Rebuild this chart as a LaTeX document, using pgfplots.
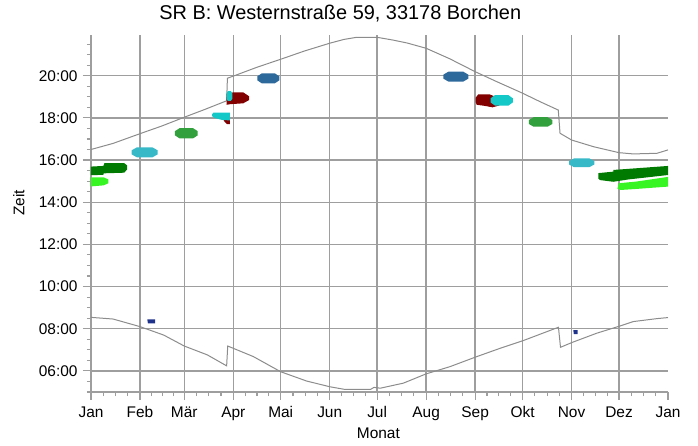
\documentclass[border=0pt]{standalone}
\usepackage{fontspec}
\setmainfont{Liberation Sans}
\usepackage{pgfplots}
\pgfplotsset{compat=1.18}
\definecolor{gridgray}{RGB}{158,158,158}
\definecolor{curvegray}{RGB}{140,140,140}
\definecolor{dkgreen}{RGB}{0,122,0}
\definecolor{ltgreen}{RGB}{55,245,35}
\definecolor{teal1}{RGB}{55,185,200}
\definecolor{midgreen}{RGB}{50,160,60}
\definecolor{cyan1}{RGB}{20,200,200}
\definecolor{dkred}{RGB}{130,0,0}
\definecolor{steel}{RGB}{45,105,155}
\definecolor{navy1}{RGB}{30,50,140}
\begin{document}
\begin{tikzpicture}
\begin{axis}[
  scale only axis, width=577bp, height=357bp,
  xmin=0, xmax=365, ymin=5, ymax=21.93,
  axis x line*=bottom, axis y line*=left,
  axis line style={gridgray, line width=1.4bp},
  xtick={0,31,59,90,120,151,181,212,243,273,304,334,365},
  xticklabels={Jan,Feb,Mär,Apr,Mai,Jun,Jul,Aug,Sep,Okt,Nov,Dez,Jan},
  minor xtick={7.75,15.5,23.25,38,45,52,66.75,74.5,82.25,97.5,105,112.5,127.75,135.5,143.25,158.5,166,173.5,188.75,196.5,204.25,219.75,227.5,235.25,250.5,258,265.5,280.75,288.5,296.25,311.5,319,326.5,341.75,349.5,357.25},
  extra x ticks={31,59,90,120,151,181,212,243,273,304,334},
  extra x tick labels={},
  extra x tick style={grid=major, major tick length=0pt},
  ytick={6,8,10,12,14,16,18,20},
  yticklabels={06:00,08:00,10:00,12:00,14:00,16:00,18:00,20:00},
  minor ytick={5,5.5,6.5,7,7.5,8.5,9,9.5,10.5,11,11.5,12.5,13,13.5,14.5,15,15.5,16.5,17,17.5,18.5,19,19.5,20.5,21,21.5},
  ymajorgrids,
  grid style={gridgray, line width=1.4bp},
  tick style={gridgray, line width=1.1bp},
  major tick length=8bp, minor tick length=4bp,
  tick align=outside,
  ticklabel style={font=\fontsize{15.5}{18}\selectfont, text=black},
  xticklabel style={yshift=-3bp},
  yticklabel style={xshift=-2bp},
  xlabel={Monat}, ylabel={Zeit},
  label style={font=\fontsize{15.5}{18}\selectfont},
  xlabel style={at={(axis description cs:0.498,-0.115)}, anchor=center},
  ylabel style={at={(axis description cs:-0.125,0.53)}, anchor=center, rotate=0},
  title={SR B: Westernstraße 59, 33178 Borchen},
  title style={at={(axis description cs:0.432,1.043)}, anchor=center, font=\fontsize{20}{24}\selectfont},
]
% sunset
\addplot[curvegray, line width=1bp, no marks] coordinates {
(0,16.50)(14,16.79)(31,17.25)(45,17.62)(59,18.03)(72,18.40)(85.8,18.81)(86.3,19.88)(90,19.98)(105,20.40)(120,20.78)(135,21.17)(151,21.54)(160,21.72)(168,21.82)(181,21.82)(191,21.69)(200,21.55)(212,21.30)(227,20.80)(243,20.19)(256.6,19.72)(273,19.17)(284,18.77)(295.6,18.37)(296.7,17.27)(304,16.95)(318,16.63)(334,16.35)(343,16.29)(358,16.32)(365,16.48)
};
% sunrise
\addplot[curvegray, line width=1bp, no marks] coordinates {
(0,8.54)(14,8.46)(31,8.10)(46,7.70)(59,7.18)(73.6,6.76)(85.8,6.24)(86.5,7.18)(102.7,6.68)(120,5.96)(136.4,5.52)(151,5.25)(160,5.13)(177,5.13)(179,5.22)(183,5.18)(197.6,5.42)(212,5.86)(227,6.20)(243,6.65)(258.7,7.07)(273.5,7.44)(295.7,8.07)(297,7.12)(304,7.34)(320,7.79)(334.6,8.13)(343,8.34)(358,8.48)(365,8.53)
};
% dark green (Dec / Jan)
\addplot[draw=none, fill=dkgreen] coordinates {
(320.9,15.38)(330.4,15.45)(330.4,15.53)(365,15.72)(365,15.29)(340,15.08)(330.4,14.97)(322,15.05)(320.9,15.12)
} -- cycle;
\addplot[draw=none, fill=dkgreen] coordinates {
(0,15.69)(7.8,15.72)(8.5,15.85)(21,15.85)(22.8,15.75)(22.8,15.55)(21,15.40)(8,15.37)(7.8,15.30)(0,15.28)
} -- cycle;
% bright green
\addplot[draw=none, fill=ltgreen] coordinates {
(333,14.65)(334,14.90)(345,14.98)(365,15.20)(365,14.74)(345,14.63)(335,14.58)
} -- cycle;
\addplot[draw=none, fill=ltgreen] coordinates {
(0,15.18)(8,15.18)(11,15.08)(11,14.90)(8,14.80)(0,14.75)
} -- cycle;
% teal Feb / Nov
\addplot[draw=none, fill=teal1] coordinates {
(29,16.60)(38.9,16.60)(42.2,16.46)(42.2,16.27)(38.9,16.13)(29,16.13)(25.7,16.27)(25.7,16.46)
} -- cycle;
\addplot[draw=none, fill=teal1] coordinates {
(305.6,16.08)(315.2,16.08)(318.4,15.95)(318.4,15.79)(315.2,15.66)(305.6,15.66)(302.4,15.79)(302.4,15.95)
} -- cycle;
% mid green Mar / Okt
\addplot[draw=none, fill=midgreen] coordinates {
(56,17.51)(64.6,17.51)(67.5,17.37)(67.5,17.17)(64.6,17.03)(56,17.03)(53.1,17.17)(53.1,17.37)
} -- cycle;
\addplot[draw=none, fill=midgreen] coordinates {
(280,18.03)(288.8,18.03)(291.8,17.90)(291.8,17.71)(288.8,17.58)(280,17.58)(277,17.71)(277,17.90)
} -- cycle;
% Apr cluster
\addplot[draw=none, fill=dkred] coordinates {
(83.7,17.92)(87.9,17.92)(87.9,17.70)(86,17.70)(84.5,17.82)
} -- cycle;
\addplot[draw=none, fill=cyan1] coordinates {
(76.7,18.18)(77.5,18.25)(87.9,18.25)(87.9,17.88)(83,17.90)(78,18.00)(76.7,18.08)
} -- cycle;
\addplot[draw=none, fill=dkred] coordinates {
(85.8,19.15)(90,19.21)(96.3,19.21)(100.1,19.02)(100.1,18.85)(96.3,18.69)(88,18.65)(85.8,18.62)
} -- cycle;
\addplot[draw=none, fill=cyan1] coordinates {
(86.5,19.27)(88.5,19.27)(89.4,19.15)(89.4,18.90)(88.5,18.81)(86.5,18.81)(85.8,18.90)(85.8,19.15)
} -- cycle;
% steel blue Mai / Aug
\addplot[draw=none, fill=steel] coordinates {
(108,20.11)(116.3,20.11)(119.1,19.97)(119.1,19.78)(116.3,19.64)(108,19.64)(105.2,19.78)(105.2,19.97)
} -- cycle;
\addplot[draw=none, fill=steel] coordinates {
(226.1,20.19)(235.5,20.19)(238.7,20.05)(238.7,19.86)(235.5,19.72)(226.1,19.72)(222.9,19.86)(222.9,20.05)
} -- cycle;
% Sep cluster
\addplot[draw=none, fill=dkred] coordinates {
(243.3,18.95)(245,19.12)(252,19.12)(256,19.00)(260.8,18.75)(258,18.58)(254,18.50)(249,18.57)(244,18.62)(243.3,18.75)
} -- cycle;
\addplot[draw=none, fill=cyan1] coordinates {
(255.6,19.08)(264,19.08)(266.8,18.93)(266.8,18.73)(264,18.58)(255.6,18.58)(252.8,18.73)(252.8,18.93)
} -- cycle;
% navy morning dots
\addplot[draw=none, fill=navy1] coordinates {
(35.6,8.45)(40.5,8.45)(40.5,8.26)(36,8.26)
} -- cycle;
\addplot[draw=none, fill=navy1] coordinates {
(305.1,7.94)(307.9,7.94)(307.9,7.75)(305.4,7.75)
} -- cycle;
\end{axis}
\path[use as bounding box] ([shift={(-91bp,-54bp)}]current axis.south west) rectangle ++(698bp,446bp);
\end{tikzpicture}
\end{document}
